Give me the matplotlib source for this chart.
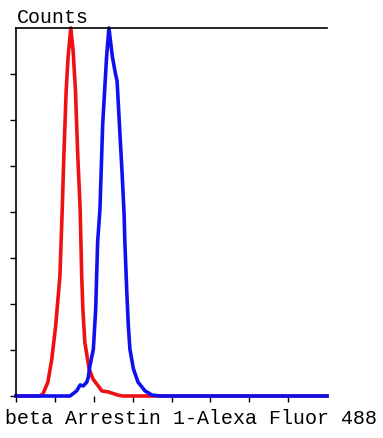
import matplotlib
matplotlib.use("Agg")
import matplotlib.pyplot as plt

# Red (control) histogram
red_x = [0.0, 0.60, 0.69, 0.82, 0.92, 1.02, 1.13, 1.19, 1.23, 1.29, 1.34, 1.41,
         1.47, 1.53, 1.59, 1.65, 1.69, 1.72, 1.77, 1.88, 1.98, 2.21, 2.37, 2.62, 2.75, 8.0]
red_y = [0.0, 0.0, 0.04, 0.30, 0.80, 1.52, 2.61, 4.07, 5.20, 6.63, 7.37, 8.0,
         7.5, 6.63, 5.20, 4.07, 2.61, 1.89, 1.17, 0.59, 0.37, 0.11, 0.09, 0.02, 0.0, 0.0]

# Blue (antibody) histogram
blue_x = [0.0, 1.39, 1.56, 1.65, 1.73, 1.82, 1.86, 1.90, 1.99, 2.05, 2.10, 2.16, 2.23,
          2.33, 2.39, 2.48, 2.56, 2.60, 2.66, 2.73, 2.78, 2.80, 2.85, 2.89, 2.93,
          3.02, 3.14, 3.32, 3.50, 3.70, 8.0]
blue_y = [0.0, 0.0, 0.11, 0.24, 0.22, 0.30, 0.41, 0.65, 1.02, 1.89, 3.35, 4.07, 5.91,
          7.37, 8.0, 7.37, 7.0, 6.85, 5.91, 4.83, 3.96, 3.35, 2.26, 1.52, 1.02,
          0.59, 0.30, 0.11, 0.02, 0.0, 0.0]

x_ticks = [0, 1, 2, 3, 4, 5, 6, 7]
y_ticks = [0, 1, 2, 3, 4, 5, 6, 7]
x_label = "beta Arrestin 1-Alexa Fluor 488"
y_label = "Counts"

font = ["Liberation Mono", "DejaVu Sans Mono"]

fig = plt.figure(figsize=(3.83, 4.39), dpi=100)
ax = fig.add_axes([16/383, 42/439, 311/383, 368/439])

ax.plot(red_x, red_y, color="#ee1111", lw=2.6, solid_joinstyle="round", clip_on=False)
ax.plot(blue_x, blue_y, color="#1010ee", lw=2.6, solid_joinstyle="round", clip_on=False)

ax.set_xlim(0, 8)
ax.set_ylim(0, 8)
ax.set_xticks(x_ticks)
ax.set_yticks(y_ticks)
ax.set_xticklabels([])
ax.set_yticklabels([])
ax.tick_params(direction="out", length=4, width=1)
ax.spines["right"].set_visible(False)
ax.spines["bottom"].set_visible(False)
ax.spines["top"].set_linewidth(1.2)
ax.spines["left"].set_linewidth(1.2)

fig.text(17/383, 1 - 23/439, y_label, family=font, fontsize=14.4, ha="left", va="baseline")
fig.text(5/383, 1 - 424/439, x_label, family=font, fontsize=14.4, ha="left", va="baseline")

fig.savefig("out.png", dpi=100)
